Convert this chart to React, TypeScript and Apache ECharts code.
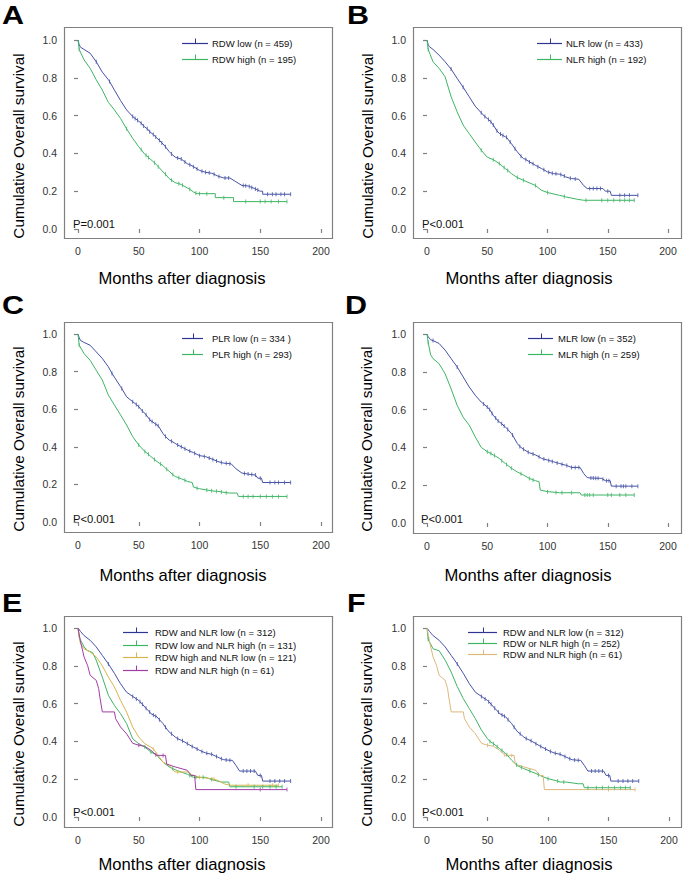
import React, { useEffect, useRef } from "react";
import * as echarts from "echarts";

// ---------- data (months, cumulative survival) ----------
const X_TICKS = [0, 50, 100, 150, 200];
const Y_TICKS = [0, 0.2, 0.4, 0.6, 0.8, 1.0];

const A_LOW = [[0,1],[1,0.975],[2,0.962],[5,0.95],[10,0.93],[15,0.885],[20,0.83],[25,0.79],[30,0.735],[35,0.68],[40,0.63],[45,0.595],[50,0.57],[55,0.54],[60,0.51],[65,0.48],[70,0.45],[75,0.41],[80,0.38],[85,0.37],[90,0.345],[95,0.33],[100,0.31],[105,0.30],[110,0.295],[115,0.28],[120,0.27],[125,0.27],[130,0.25],[135,0.23],[140,0.228],[145,0.215],[150,0.2],[152,0.2],[152,0.184],[175,0.184]];
const A_LOW_C = [[15,0.885],[26,0.78],[45,0.595],[47,0.585],[49,0.575],[52,0.56],[54,0.545],[57,0.53],[59,0.515],[62,0.5],[64,0.487],[67,0.47],[69,0.455],[72,0.435],[77,0.397],[82,0.376],[85,0.37],[88,0.355],[92,0.34],[95,0.33],[98,0.318],[102,0.306],[105,0.3],[108,0.297],[112,0.29],[116,0.278],[121,0.27],[124,0.27],[136,0.23],[138,0.229],[141,0.225],[143,0.22],[146,0.212],[148,0.206],[156,0.184],[160,0.184],[163,0.184],[167,0.184],[170,0.184],[175,0.184]];
const A_HIGH = [[0,1],[1,0.95],[5,0.895],[10,0.85],[15,0.79],[20,0.735],[25,0.67],[30,0.63],[35,0.585],[40,0.53],[45,0.48],[50,0.435],[55,0.395],[60,0.367],[65,0.337],[70,0.302],[75,0.267],[80,0.245],[85,0.235],[90,0.217],[95,0.196],[98,0.187],[113,0.187],[113,0.166],[128,0.166],[128,0.145],[172,0.145]];
const A_HIGH_C = [[1,0.95],[40,0.53],[52,0.42],[56,0.39],[58,0.378],[63,0.35],[66,0.33],[72,0.29],[77,0.258],[83,0.24],[86,0.232],[92,0.21],[97,0.19],[100,0.187],[106,0.187],[120,0.166],[138,0.145],[150,0.145],[154,0.145],[159,0.145],[165,0.145],[172,0.145]];

const B_LOW = [[0,1],[1,0.975],[2,0.965],[5,0.95],[10,0.92],[15,0.885],[20,0.846],[25,0.797],[30,0.75],[35,0.7],[40,0.65],[45,0.615],[50,0.585],[55,0.55],[60,0.505],[65,0.488],[70,0.452],[75,0.408],[80,0.373],[85,0.355],[90,0.337],[95,0.32],[100,0.302],[105,0.293],[110,0.29],[115,0.276],[120,0.267],[126,0.263],[130,0.23],[133,0.214],[146,0.214],[148,0.2],[152,0.2],[153,0.178],[175,0.178]];
const B_LOW_C = [[20,0.846],[30,0.75],[45,0.615],[48,0.595],[51,0.58],[53,0.567],[55,0.55],[58,0.52],[61,0.502],[63,0.495],[66,0.485],[69,0.46],[73,0.425],[78,0.385],[82,0.368],[85,0.355],[88,0.345],[92,0.33],[97,0.313],[101,0.3],[104,0.295],[107,0.292],[111,0.288],[114,0.28],[119,0.268],[123,0.265],[135,0.214],[138,0.214],[141,0.214],[144,0.214],[150,0.2],[160,0.178],[164,0.178],[168,0.178],[175,0.178]];
const B_HIGH = [[0,1],[1,0.95],[5,0.885],[10,0.85],[15,0.806],[20,0.7],[25,0.62],[30,0.55],[35,0.505],[40,0.46],[45,0.417],[50,0.38],[55,0.367],[60,0.346],[65,0.32],[70,0.293],[75,0.272],[80,0.258],[85,0.244],[90,0.23],[95,0.205],[100,0.193],[110,0.178],[115,0.17],[125,0.157],[130,0.152],[172,0.152]];
const B_HIGH_C = [[1,0.95],[45,0.417],[55,0.367],[60,0.346],[64,0.325],[67,0.31],[75,0.272],[80,0.258],[90,0.23],[100,0.193],[114,0.172],[132,0.152],[145,0.152],[150,0.152],[155,0.152],[160,0.152],[164,0.152],[168,0.152],[172,0.152]];

const C_LOW = [[0,1],[1,0.98],[2,0.966],[5,0.955],[10,0.94],[15,0.905],[20,0.87],[25,0.825],[30,0.77],[35,0.72],[40,0.666],[45,0.64],[50,0.613],[55,0.578],[60,0.537],[65,0.516],[70,0.47],[75,0.436],[80,0.418],[85,0.4],[90,0.383],[95,0.369],[100,0.353],[105,0.348],[110,0.336],[115,0.322],[120,0.313],[126,0.31],[130,0.283],[135,0.26],[140,0.255],[146,0.25],[148,0.233],[151,0.233],[152,0.21],[175,0.21]];
const C_LOW_C = [[28,0.79],[36,0.71],[45,0.64],[48,0.625],[50,0.613],[53,0.59],[56,0.57],[59,0.545],[61,0.535],[64,0.52],[66,0.512],[72,0.455],[77,0.43],[82,0.41],[85,0.4],[88,0.39],[92,0.377],[96,0.366],[100,0.353],[104,0.349],[108,0.34],[111,0.333],[114,0.325],[118,0.316],[122,0.312],[125,0.31],[137,0.258],[140,0.255],[143,0.252],[146,0.25],[150,0.233],[158,0.21],[162,0.21],[165,0.21],[170,0.21],[175,0.21]];
const C_HIGH = [[0,1],[1,0.94],[5,0.896],[10,0.86],[15,0.807],[20,0.755],[25,0.675],[30,0.622],[35,0.57],[40,0.516],[45,0.454],[50,0.41],[55,0.375],[60,0.348],[65,0.322],[70,0.3],[75,0.27],[80,0.242],[85,0.23],[90,0.216],[94,0.21],[95,0.186],[100,0.177],[110,0.166],[115,0.163],[125,0.154],[131,0.154],[132,0.136],[172,0.136]];
const C_HIGH_C = [[1,0.94],[50,0.41],[55,0.375],[58,0.36],[63,0.332],[68,0.308],[73,0.28],[78,0.252],[83,0.235],[88,0.222],[98,0.18],[106,0.17],[110,0.166],[114,0.163],[118,0.16],[122,0.156],[136,0.136],[140,0.136],[144,0.136],[150,0.136],[155,0.136],[160,0.136],[165,0.136],[172,0.136]];

const D_LOW = [[0,1],[1,0.985],[3,0.97],[10,0.95],[15,0.915],[20,0.87],[25,0.826],[30,0.773],[35,0.72],[40,0.676],[45,0.64],[50,0.614],[55,0.57],[60,0.535],[65,0.509],[70,0.474],[75,0.42],[80,0.39],[85,0.372],[90,0.36],[95,0.342],[100,0.333],[105,0.324],[110,0.315],[115,0.306],[120,0.294],[127,0.294],[130,0.262],[133,0.24],[145,0.236],[148,0.224],[152,0.224],[153,0.195],[175,0.195]];
const D_LOW_C = [[5,0.965],[25,0.826],[47,0.63],[50,0.614],[52,0.6],[54,0.58],[57,0.555],[59,0.54],[62,0.525],[64,0.513],[67,0.495],[71,0.465],[77,0.405],[80,0.39],[84,0.375],[88,0.365],[93,0.35],[97,0.338],[101,0.331],[104,0.326],[108,0.318],[112,0.311],[116,0.304],[120,0.294],[123,0.294],[126,0.294],[136,0.238],[138,0.238],[140,0.237],[142,0.237],[146,0.232],[149,0.224],[151,0.224],[157,0.195],[161,0.195],[163,0.195],[165,0.195],[170,0.195],[175,0.195]];
const D_HIGH = [[0,1],[1,0.955],[3,0.89],[5,0.87],[10,0.843],[15,0.79],[20,0.71],[25,0.623],[30,0.56],[35,0.518],[40,0.456],[45,0.4],[50,0.377],[55,0.36],[60,0.342],[65,0.315],[70,0.29],[75,0.27],[80,0.254],[85,0.236],[90,0.224],[93,0.218],[94,0.174],[100,0.166],[110,0.16],[127,0.16],[128,0.148],[172,0.148]];
const D_HIGH_C = [[1,0.955],[50,0.377],[53,0.368],[56,0.357],[62,0.33],[66,0.31],[70,0.29],[78,0.26],[85,0.236],[88,0.228],[100,0.166],[107,0.162],[112,0.16],[120,0.16],[131,0.148],[133,0.148],[135,0.148],[138,0.148],[150,0.148],[153,0.148],[160,0.148],[165,0.148],[172,0.148]];

const E_LL = [[0,1],[2,0.982],[5,0.96],[10,0.935],[15,0.9],[20,0.855],[25,0.81],[30,0.76],[35,0.705],[40,0.66],[45,0.638],[50,0.617],[55,0.582],[60,0.547],[65,0.53],[70,0.494],[75,0.45],[80,0.423],[85,0.406],[90,0.388],[95,0.37],[100,0.353],[105,0.339],[110,0.332],[115,0.317],[120,0.303],[127,0.3],[130,0.273],[133,0.243],[146,0.243],[148,0.22],[151,0.22],[152,0.19],[175,0.19]];
const E_LL_C = [[25,0.81],[45,0.638],[48,0.625],[51,0.61],[53,0.597],[56,0.575],[59,0.555],[62,0.54],[64,0.533],[67,0.515],[72,0.475],[77,0.44],[82,0.415],[86,0.403],[90,0.388],[94,0.373],[98,0.36],[102,0.347],[106,0.337],[110,0.332],[114,0.32],[118,0.308],[122,0.302],[125,0.3],[136,0.243],[139,0.243],[142,0.243],[145,0.243],[150,0.22],[158,0.19],[162,0.19],[166,0.19],[170,0.19],[175,0.19]];
const E_LH = [[0,1],[1,0.95],[5,0.9],[8,0.88],[12,0.87],[15,0.83],[20,0.74],[25,0.644],[30,0.59],[35,0.547],[40,0.494],[45,0.414],[50,0.388],[55,0.37],[60,0.344],[65,0.326],[70,0.29],[75,0.265],[80,0.25],[85,0.238],[90,0.226],[95,0.21],[105,0.21],[110,0.198],[118,0.185],[124,0.185],[125,0.16],[168,0.16]];
const E_LH_C = [[55,0.37],[60,0.344],[78,0.256],[92,0.22],[97,0.21],[103,0.21],[110,0.198],[130,0.16],[145,0.16],[152,0.16],[158,0.16],[163,0.16],[168,0.16]];
const E_HL = [[0,1],[2,0.917],[5,0.89],[10,0.873],[15,0.847],[20,0.8],[25,0.74],[30,0.688],[35,0.617],[40,0.555],[45,0.476],[50,0.423],[55,0.388],[60,0.37],[65,0.335],[70,0.29],[75,0.273],[80,0.238],[90,0.238],[95,0.22],[100,0.21],[110,0.203],[115,0.194],[120,0.176],[125,0.168],[165,0.168]];
const E_HL_C = [[62,0.36],[82,0.238],[100,0.21],[112,0.2],[140,0.168],[160,0.168],[165,0.168]];
const E_HH = [[0,1],[2,0.93],[5,0.847],[8,0.8],[10,0.75],[15,0.723],[17,0.68],[18,0.635],[20,0.556],[30,0.556],[31,0.52],[35,0.476],[40,0.44],[45,0.39],[50,0.38],[55,0.374],[60,0.353],[65,0.326],[72,0.326],[73,0.28],[80,0.265],[90,0.247],[93,0.22],[96,0.22],[97,0.145],[172,0.145]];
const E_HH_C = [[50,0.38],[64,0.33],[70,0.326],[150,0.145],[172,0.145]];

const F_OR = [[0,1],[1,0.94],[5,0.89],[10,0.88],[15,0.83],[20,0.767],[25,0.69],[30,0.626],[35,0.573],[40,0.52],[45,0.46],[50,0.414],[55,0.388],[60,0.362],[65,0.335],[70,0.3],[75,0.27],[80,0.256],[85,0.243],[90,0.23],[95,0.215],[100,0.203],[110,0.185],[115,0.185],[125,0.176],[129,0.176],[130,0.155],[168,0.155]];
const F_OR_C = [[1,0.94],[52,0.4],[55,0.388],[58,0.372],[62,0.352],[66,0.33],[74,0.276],[78,0.262],[85,0.243],[92,0.224],[100,0.203],[108,0.19],[113,0.185],[133,0.155],[140,0.155],[145,0.155],[150,0.155],[155,0.155],[160,0.155],[164,0.155],[168,0.155]];

// ---------- styling ----------
const FONT = "'Liberation Sans', Arial, Helvetica, sans-serif";
const BLUE = "#4552a6";
const BLUE_LEG = "#2f3590";
const GREEN = "#3db565";
const GOLD = "#d6b54c";
const PURPLE = "#a23ca6";
const TAN = "#dcb87a";
const BOX = "#808080";

type Curve = { name: string; data: number[][]; censor: number[][]; color: string; leg?: string };
type Panel = {
  letter: string; lx: number; ly: number;
  box: number[]; grid: number[];
  curves: Curve[]; p: string; px: number; py: number;
  leg: { x1: number; x2: number; tx: number; y0: number; gap: number };
  xt: number[]; yt: number[];
};

const PANELS: Panel[] = [
  {
    letter: "A", lx: 2, ly: 15, box: [64, 27, 268, 211], grid: [78, 40, 243, 189],
    curves: [
      { name: "RDW low (n = 459)", data: A_LOW, censor: A_LOW_C, color: BLUE, leg: BLUE_LEG },
      { name: "RDW high (n = 195)", data: A_HIGH, censor: A_HIGH_C, color: GREEN },
    ],
    p: "P=0.001", px: 73, py: 224,
    leg: { x1: 182, x2: 208, tx: 212, y0: 43, gap: 16 },
    xt: [182, 278], yt: [18, 146],
  },
  {
    letter: "B", lx: 347, ly: 15, box: [413, 27, 268, 211], grid: [427, 40, 241, 189],
    curves: [
      { name: "NLR low (n = 433)", data: B_LOW, censor: B_LOW_C, color: BLUE, leg: BLUE_LEG },
      { name: "NLR high (n = 192)", data: B_HIGH, censor: B_HIGH_C, color: GREEN },
    ],
    p: "P<0.001", px: 422, py: 224,
    leg: { x1: 537, x2: 562, tx: 566, y0: 43, gap: 15.5 },
    xt: [529, 278], yt: [367, 146],
  },
  {
    letter: "C", lx: 2, ly: 305, box: [64, 322, 268, 210], grid: [78, 334, 243, 188],
    curves: [
      { name: "PLR low (n = 334 )", data: C_LOW, censor: C_LOW_C, color: BLUE, leg: BLUE_LEG },
      { name: "PLR high (n = 293)", data: C_HIGH, censor: C_HIGH_C, color: GREEN },
    ],
    p: "P<0.001", px: 73, py: 519,
    leg: { x1: 182, x2: 203, tx: 212, y0: 338, gap: 16 },
    xt: [183, 575], yt: [18, 439],
  },
  {
    letter: "D", lx: 345, ly: 305, box: [413, 322, 268, 211], grid: [427, 334, 241, 189],
    curves: [
      { name: "MLR low (n = 352)", data: D_LOW, censor: D_LOW_C, color: BLUE, leg: BLUE_LEG },
      { name: "MLR high (n = 259)", data: D_HIGH, censor: D_HIGH_C, color: GREEN },
    ],
    p: "P<0.001", px: 421, py: 519,
    leg: { x1: 528, x2: 553, tx: 558, y0: 338, gap: 16 },
    xt: [528, 575], yt: [366, 439],
  },
  {
    letter: "E", lx: 2, ly: 603, box: [64, 616, 268, 211], grid: [78, 628, 243, 189],
    curves: [
      { name: "RDW and NLR low (n = 312)", data: E_LL, censor: E_LL_C, color: BLUE, leg: BLUE_LEG },
      { name: "RDW low and NLR high (n = 131)", data: E_LH, censor: E_LH_C, color: GREEN },
      { name: "RDW high and NLR low (n = 121)", data: E_HL, censor: E_HL_C, color: GOLD },
      { name: "RDW and NLR high (n = 61)", data: E_HH, censor: E_HH_C, color: PURPLE },
    ],
    p: "P<0.001", px: 73, py: 812,
    leg: { x1: 123, x2: 148, tx: 155, y0: 632, gap: 12.5 },
    xt: [182, 864], yt: [18, 734],
  },
  {
    letter: "F", lx: 347, ly: 603, box: [413, 616, 268, 211], grid: [427, 628, 242, 189],
    curves: [
      { name: "RDW and NLR low (n = 312)", data: E_LL, censor: E_LL_C, color: BLUE, leg: BLUE_LEG },
      { name: "RDW or NLR high (n = 252)", data: F_OR, censor: F_OR_C, color: GREEN },
      { name: "RDW and NLR high (n = 61)", data: E_HH, censor: E_HH_C, color: TAN },
    ],
    p: "P<0.001", px: 422, py: 812,
    leg: { x1: 468, x2: 497, tx: 503, y0: 632, gap: 11 },
    xt: [529, 864], yt: [366, 734],
  },
];

function mergeSorted(curve: number[][], censor: number[][]) {
  const all = curve.map((p, i) => ({ p, k: 0, i })).concat(censor.map((p, i) => ({ p, k: 1, i })));
  all.sort((a, b) => a.p[0] - b.p[0] || a.k - b.k || a.i - b.i);
  return all.map((o) => o.p);
}

function seg(x1: number, y1: number, x2: number, y2: number, color: string, w = 1) {
  return {
    type: "line", silent: true, z: 10,
    shape: { x1, y1, x2, y2 },
    style: { stroke: color, lineWidth: w },
  };
}

function buildOption() {
  const grid: any[] = [];
  const xAxis: any[] = [];
  const yAxis: any[] = [];
  const series: any[] = [];
  const graphic: any[] = [];

  PANELS.forEach((pn, i) => {
    const [gl, gt, gw, gh] = pn.grid;
    const [bx, by, bw, bh] = pn.box;
    grid.push({ left: gl, top: gt, width: gw, height: gh, containLabel: false, show: false });
    xAxis.push({
      type: "value", gridIndex: i, min: X_TICKS[0], max: X_TICKS[X_TICKS.length - 1], interval: 50,
      position: "bottom", offset: by + bh - (gt + gh),
      axisLine: { show: false },
      axisTick: { show: true, length: 4, lineStyle: { color: BOX, width: 1.2 } },
      axisLabel: { color: "#333", fontSize: 10.5, fontFamily: FONT, margin: 7 },
      splitLine: { show: false },
    });
    yAxis.push({
      type: "value", gridIndex: i, min: Y_TICKS[0], max: Y_TICKS[Y_TICKS.length - 1], interval: 0.2,
      position: "left", offset: gl - bx,
      axisLine: { show: false },
      axisTick: { show: true, length: 4, lineStyle: { color: BOX, width: 1.2 } },
      axisLabel: {
        color: "#333", fontSize: 10.5, fontFamily: FONT, margin: 7,
        formatter: (v: number) => v.toFixed(1),
      },
      splitLine: { show: false },
    });

    pn.curves.forEach((c) => {
      series.push({
        type: "line", name: c.name, xAxisIndex: i, yAxisIndex: i,
        data: mergeSorted(c.data, c.censor),
        showSymbol: false, symbol: "none", silent: true,
        lineStyle: { color: c.color, width: 1 }, itemStyle: { color: c.color },
        z: 3,
      });
      series.push({
        type: "scatter", xAxisIndex: i, yAxisIndex: i, data: c.censor,
        symbol: "rect", symbolSize: [1, 4], silent: true,
        itemStyle: { color: c.color }, z: 4,
      });
    });

    // frame box as four stroked segments
    const L = bx + 0.5, T = by + 0.5, R = bx + bw + 0.5, B = by + bh + 0.5;
    graphic.push(seg(L - 0.6, T, R + 0.6, T, BOX, 1.2));
    graphic.push(seg(L - 0.6, B, R + 0.6, B, BOX, 1.2));
    graphic.push(seg(L, T, L, B, BOX, 1.2));
    graphic.push(seg(R, T, R, B, BOX, 1.2));

    // panel letter
    graphic.push({
      type: "text", x: pn.lx, y: pn.ly, scaleX: 1.22,
      style: {
        text: pn.letter, fontSize: 25, fontWeight: "bold", fontFamily: FONT, fill: "#000",
        textAlign: "left", textVerticalAlign: "middle", align: "left", verticalAlign: "middle",
      },
    });
    // x title
    graphic.push({
      type: "text", x: pn.xt[0], y: pn.xt[1],
      style: {
        text: "Months after diagnosis", fontSize: 16.6, fontFamily: FONT, fill: "#000",
        textAlign: "center", textVerticalAlign: "middle", align: "center", verticalAlign: "middle",
      },
    });
    // y title
    graphic.push({
      type: "text", x: pn.yt[0], y: pn.yt[1], rotation: Math.PI / 2,
      style: {
        text: "Cumulative Overall survival", fontSize: 15.3, fontFamily: FONT, fill: "#000",
        textAlign: "center", textVerticalAlign: "middle", align: "center", verticalAlign: "middle",
      },
    });
    // p value
    graphic.push({
      type: "text", x: pn.px, y: pn.py,
      style: {
        text: pn.p, fontSize: 11.2, fontFamily: FONT, fill: "#111",
        textAlign: "left", textVerticalAlign: "middle", align: "left", verticalAlign: "middle",
      },
    });
    // legend
    pn.curves.forEach((c, k) => {
      const y = Math.round(pn.leg.y0 + k * pn.leg.gap) + 0.5;
      const col = c.leg || c.color;
      const mid = Math.round((pn.leg.x1 + pn.leg.x2) / 2) + 0.5;
      graphic.push(seg(pn.leg.x1, y, pn.leg.x2, y, col, 1.2));
      graphic.push(seg(mid, y, mid, y - 5, col, 1));
      graphic.push({
        type: "text", x: pn.leg.tx, y: y,
        style: {
          text: c.name, fontSize: 9.5, fontFamily: FONT, fill: "#111",
          textAlign: "left", textVerticalAlign: "middle", align: "left", verticalAlign: "middle",
        },
      });
    });
  });

  return {
    animation: false,
    backgroundColor: "#ffffff",
    textStyle: { fontFamily: FONT },
    grid, xAxis, yAxis, series, graphic,
  };
}

export default function App() {
  const ref = useRef<HTMLDivElement>(null);
  useEffect(() => {
    if (!ref.current) return;
    const chart = echarts.init(ref.current, undefined, { renderer: "svg" });
    chart.setOption(buildOption() as any);
    return () => chart.dispose();
  }, []);
  return (
    <div
      ref={ref}
      style={{ position: "fixed", left: 0, top: 0, width: 685, height: 878, background: "#fff" }}
    />
  );
}
